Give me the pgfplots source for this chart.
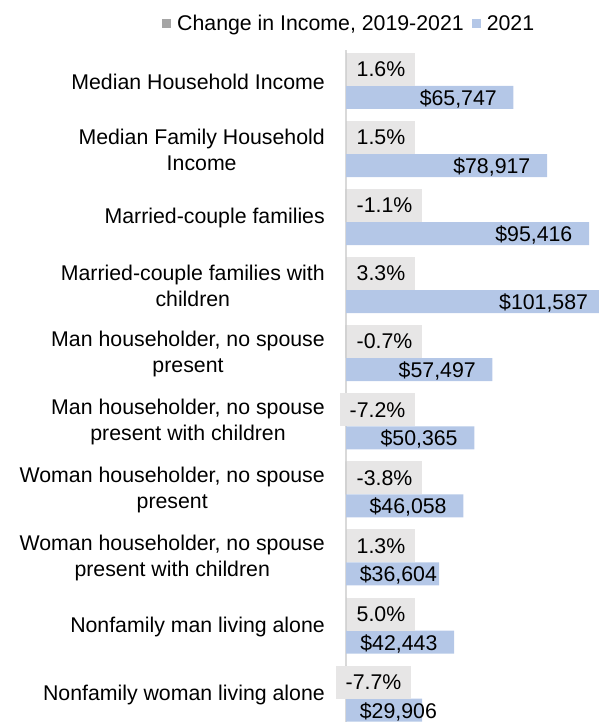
\documentclass[border=0pt]{standalone}
\usepackage{pgfplots}
\pgfplotsset{compat=1.18}
\usepackage{pgfplotstable}
\usepackage{fontspec}
\setmainfont{Liberation Sans}
\definecolor{chg}{HTML}{A5A5A5}
\definecolor{inc}{HTML}{B4C7E7}
\definecolor{lblbox}{HTML}{E7E6E6}
\definecolor{axln}{HTML}{D9D9D9}

% y: 9 = top row; gx/lx = where the data labels sit
\pgfplotstableread{
y pct val gx lx
9 1.6 65747 400 59267
8 1.5 78917 400 72437
7 -1.1 95416 400 88936
6 3.3 101587 400 95107
5 -0.7 57497 400 51017
4 -7.2 50365 -2360 43885
3 -3.8 46058 400 39578
2 1.3 36604 400 35760
1 5.0 42443 400 35963
0 -7.7 29906 -3930 35760
}\incdata

\begin{document}
\begin{tikzpicture}[font=\fontsize{21.3}{26}\selectfont]
\useasboundingbox (0,0) rectangle (598pt,722pt);
\begin{axis}[
 at={(346pt,0pt)}, anchor=south west,
 width=252pt, height=672pt, scale only axis,
 xmin=0, xmax=98940, ymin=-0.403, ymax=9.470,
 axis x line=none, axis y line*=left,
 y axis line style={draw=axln, line width=1.5pt},
 ytick={0,...,9},
 yticklabels={Nonfamily woman living alone,
  Nonfamily man living alone,
  {Woman householder, no spouse\\present with children},
  {Woman householder, no spouse\\present},
  {Man householder, no spouse\\present with children},
  {Man householder, no spouse\\present},
  {Married-couple families with\\children},
  Married-couple families,
  {Median Family Household\\Income},
  Median Household Income},
 major tick length=0pt,
 yticklabel style={align=center, inner sep=0pt, xshift=-21pt, anchor=east},
 clip=false,
 legend columns=-1,
 legend style={draw=none, fill=none, inner sep=0pt,
   at={(axis description cs:-0.7302,1.0387)}, anchor=west,
   /tikz/every odd column/.append style={column sep=4pt},
   /tikz/every even column/.append style={column sep=6pt}},
]
\addplot[xbar, fill=chg, draw=none, bar width=33pt, bar shift=12.5pt,
  legend image code/.code={\fill[chg] (0pt,-4.5pt) rectangle (9pt,4.5pt);}]
  table[x=pct, y=y] {\incdata};
\addlegendentry{Change in Income, 2019-2021}
\addplot[xbar, fill=inc, draw=none, bar width=23pt, bar shift=-15.5pt,
  legend image code/.code={\fill[inc] (0pt,-4.5pt) rectangle (9pt,4.5pt);}]
  table[x=val, y=y] {\incdata};
\addlegendentry{2021}
% percent labels in grey boxes
\addplot[forget plot, draw=none, mark=none, point meta=explicit,
  nodes near coords={\pgfmathprintnumber[fixed, fixed zerofill, precision=1, assume math mode=true]{\pgfplotspointmeta}\%},
  every node near coord/.append style={anchor=west, fill=lblbox, text=black,
    inner xsep=9.5pt, inner ysep=5pt, text height=18.7pt, text depth=4.3pt, yshift=12.5pt}]
  table[x=gx, y=y, meta=pct] {\incdata};
% dollar labels on the blue bars
\addplot[forget plot, draw=none, mark=none, point meta=explicit,
  nodes near coords={\$\pgfmathprintnumber[fixed, precision=0, 1000 sep={,}, assume math mode=true]{\pgfplotspointmeta}},
  every node near coord/.append style={anchor=base east, text=black, inner sep=0pt, yshift=-23.5pt}]
  table[x=lx, y=y, meta=val] {\incdata};
\end{axis}
\end{tikzpicture}
\end{document}
